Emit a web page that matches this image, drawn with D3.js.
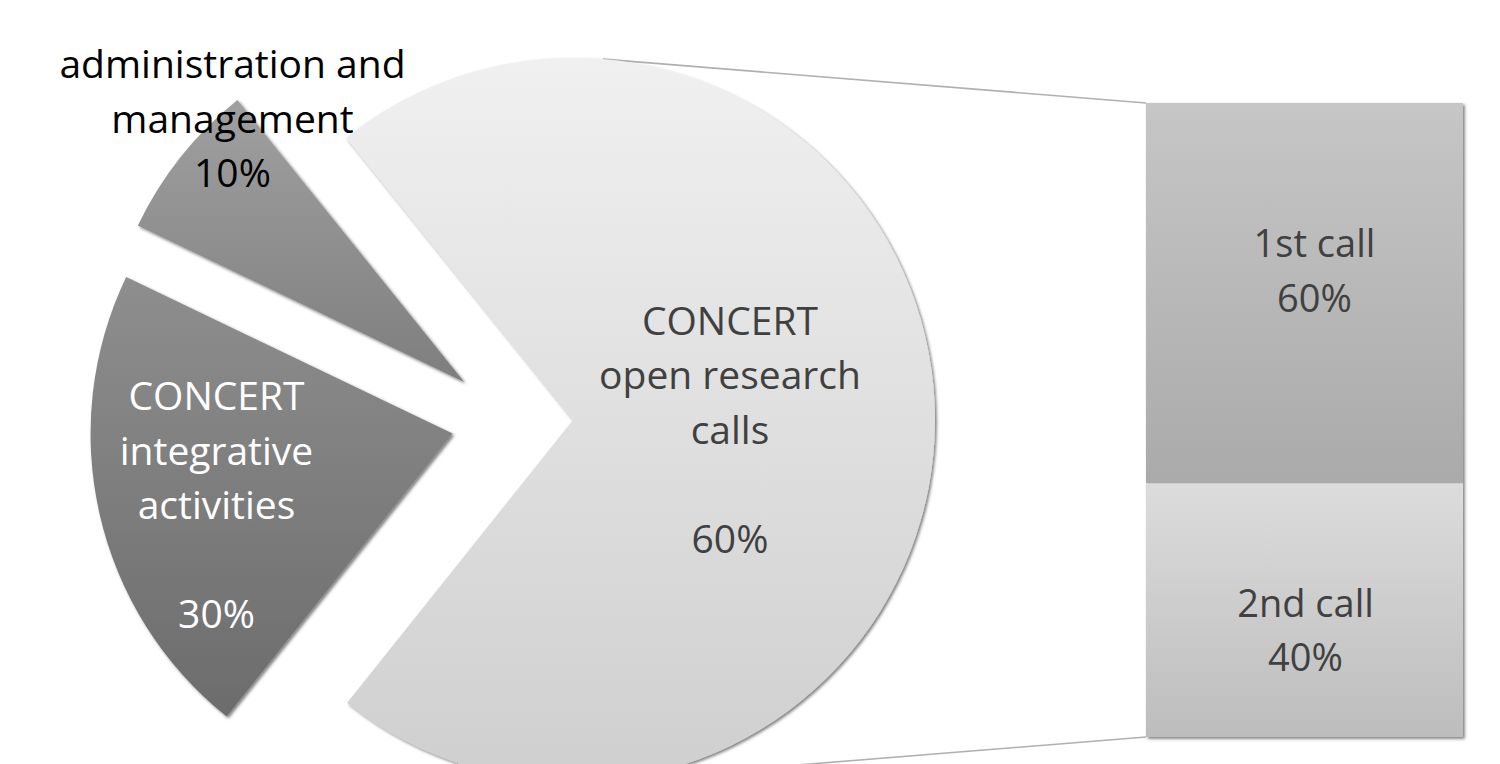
<!DOCTYPE html>
<html>
<head>
<meta charset="utf-8">
<script src="https://cdn.jsdelivr.net/npm/d3@7"></script>
<style>
  html, body { margin: 0; padding: 0; background: #fff; }
  svg { display: block; }
  text { font-family: "Open Sans", "Noto Sans", sans-serif; }
</style>
</head>
<body>
<svg id="chart" width="1500" height="764"></svg>
<script>
// ---- data ----
const pieCategories = ["CONCERT integrative activities", "administration and management", "CONCERT open research calls"];
// share of the pie drawn for each slice
const pieValues = [21.4, 7.1, 71.5];
// label texts shown on each slice
const pieLabelLines = [
  ["CONCERT", "integrative", "activities", "", "30%"],
  ["administration and", "management", "10%"],
  ["CONCERT", "open research", "calls", "", "60%"]
];
const barCategories = ["1st call", "2nd call"];
const barValues = [60, 40];
const barLabelLines = [["1st call", "60%"], ["2nd call", "40%"]];

// ---- layout / style ----
const W = 1500, H = 764;
const deg = Math.PI / 180;
const cx = 512, cy = 420, R = 362, explode = 61;
const fontSize = 39, barFontSize = 38, lineH = 54.5;
const sliceGrad = [["#8e8e8e", "#6c6c6c"], ["#a0a0a0", "#7e7e7e"], ["#f0f0f0", "#cfcfcf"]];
const sliceText = ["#ffffff", "#000000", "#404040"];
// label anchor relative to each slice's (exploded) vertex: [radius, angle deg]
const pieLabelPolar = [[251, -109.9], [340.4, -42.9], [158.8, 98.7]];
const barGrad = [["#c6c6c6", "#aaaaaa"], ["#dcdcdc", "#bdbdbd"]];
const barLabelOffset = [[10, -8.5], [1, 34]];

const svg = d3.select("#chart");
const defs = svg.append("defs");

const shadow = defs.append("filter").attr("id", "shadow")
  .attr("x", "-10%").attr("y", "-10%").attr("width", "130%").attr("height", "130%");
shadow.append("feDropShadow").attr("dx", 1.8).attr("dy", 1.8).attr("stdDeviation", 1.6)
  .attr("flood-color", "#000").attr("flood-opacity", 0.5);

function addGrad(id, c) {
  const g = defs.append("linearGradient").attr("id", id)
    .attr("x1", 0).attr("y1", 0).attr("x2", 0).attr("y2", 1);
  g.append("stop").attr("offset", "0%").attr("stop-color", c[0]);
  g.append("stop").attr("offset", "100%").attr("stop-color", c[1]);
}
sliceGrad.forEach((c, i) => addGrad("sg" + i, c));
barGrad.forEach((c, i) => addGrad("bg" + i, c));

// ---- pie ----
const startA = -141.4 * deg;
const pie = d3.pie().sort(null).value(d => d).startAngle(startA).endAngle(startA + 2 * Math.PI);
const arcs = pie(pieValues);
const arc = d3.arc().innerRadius(0).outerRadius(R);

function vertexOf(a) {
  const mid = (a.startAngle + a.endAngle) / 2;
  return [cx + explode * Math.sin(mid), cy - explode * Math.cos(mid)];
}

// ---- bar (second plot) ----
const xBar = d3.scaleBand().domain(["calls"]).range([1146, 1463]).padding(0);
const yBar = d3.scaleLinear().domain([0, d3.sum(barValues)]).range([103, 737]);
let acc = 0;
const barSegs = barValues.map((v, i) => { const s = { i, y0: acc, y1: acc + v }; acc += v; return s; });

// connector lines from the "open research calls" slice to the bar
const big = arcs[2];
const [bx, by] = vertexOf(big);
const connAngle = 4.75 * deg;
const topPt = [bx + R * Math.sin(connAngle), by - R * Math.cos(connAngle)];
const botPt = [bx + R * Math.sin(Math.PI - connAngle), by - R * Math.cos(Math.PI - connAngle)];
svg.append("line").attr("x1", topPt[0]).attr("y1", topPt[1])
  .attr("x2", xBar("calls")).attr("y2", yBar(0))
  .attr("stroke", "#b0b0b0").attr("stroke-width", 1.6);
svg.append("line").attr("x1", botPt[0]).attr("y1", botPt[1])
  .attr("x2", xBar("calls")).attr("y2", yBar(d3.sum(barValues)))
  .attr("stroke", "#b0b0b0").attr("stroke-width", 1.6);

// slices
const sliceG = svg.append("g");
arcs.forEach((a, i) => {
  const [vx, vy] = vertexOf(a);
  sliceG.append("path")
    .attr("d", arc(a))
    .attr("transform", `translate(${vx},${vy})`)
    .attr("fill", `url(#sg${i})`)
    .attr("filter", "url(#shadow)");
});

// bar segments
const barG = svg.append("g").attr("filter", "url(#shadow)");
barSegs.forEach(s => {
  barG.append("rect")
    .attr("x", xBar("calls")).attr("width", xBar.bandwidth())
    .attr("y", yBar(s.y0)).attr("height", yBar(s.y1) - yBar(s.y0))
    .attr("fill", `url(#bg${s.i})`);
});

// pie labels
arcs.forEach((a, i) => {
  const [vx, vy] = vertexOf(a);
  const [rho, th] = pieLabelPolar[i];
  const ax = vx + rho * Math.sin(th * deg), ay = vy - rho * Math.cos(th * deg);
  const lines = pieLabelLines[i];
  const t = svg.append("text").attr("text-anchor", "middle")
    .attr("font-size", fontSize).attr("fill", sliceText[i]);
  lines.forEach((l, k) => {
    t.append("tspan").attr("x", ax).attr("y", ay + (k - (lines.length - 1) / 2) * lineH).text(l);
  });
});

// bar labels
barSegs.forEach(s => {
  const mx = xBar("calls") + xBar.bandwidth() / 2 + barLabelOffset[s.i][0];
  const my = (yBar(s.y0) + yBar(s.y1)) / 2 + barLabelOffset[s.i][1];
  const lines = barLabelLines[s.i];
  const t = svg.append("text").attr("text-anchor", "middle")
    .attr("font-size", barFontSize).attr("fill", "#404040");
  lines.forEach((l, k) => {
    t.append("tspan").attr("x", mx).attr("y", my + (k - (lines.length - 1) / 2) * lineH).text(l);
  });
});
</script>
</body>
</html>
